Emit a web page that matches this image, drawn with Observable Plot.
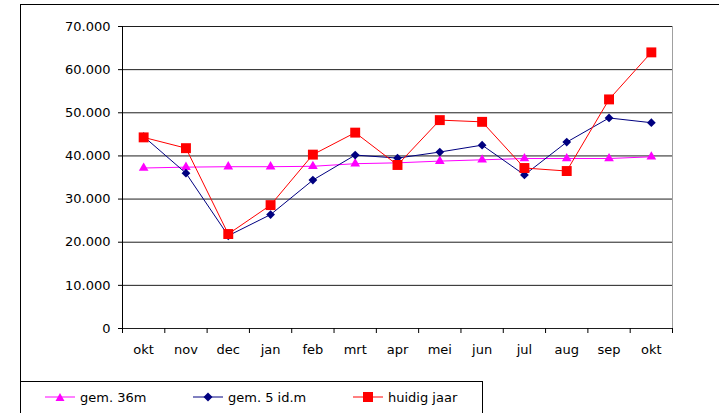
<!DOCTYPE html>
<html>
<head>
<meta charset="utf-8">
<script src="https://cdn.jsdelivr.net/npm/d3@7"></script>
<script src="https://cdn.jsdelivr.net/npm/@observablehq/plot@0.6"></script>
<style>
  html, body { margin: 0; padding: 0; background: #fff; }
  #wrap { position: relative; width: 719px; height: 413px; overflow: hidden; font-family: "DejaVu Sans", sans-serif; font-size: 13px; color: #000; }
  #frame { position: absolute; left: 20px; top: 4px; width: 720px; height: 420px; border-left: 1px solid #000; border-top: 1px solid #000; box-sizing: border-box; }
  #chart { position: absolute; left: 0; top: 0; }
  #legend { position: absolute; left: 20px; top: 381px; width: 463px; height: 40px; border: 1px solid #000; box-sizing: border-box; }
  .item { position: absolute; top: 6px; height: 18px; display: flex; align-items: center; white-space: nowrap; }
  .item svg { margin-right: 5px; }
</style>
</head>
<body>
<div id="wrap">
  <div id="frame"></div>
  <div id="chart"></div>
  <div id="legend"></div>
</div>
<script>
const months = ["okt","nov","dec","jan","feb","mrt","apr","mei","jun","jul","aug","sep","okt"];
const gem36 = [37200, 37400, 37500, 37500, 37600, 38200, 38400, 38800, 39100, 39400, 39400, 39400, 39800];
const gem5 = [44500, 36000, 21500, 26400, 34400, 40200, 39500, 40900, 42500, 35600, 43200, 48800, 47700];
const huidig = [44300, 41800, 21900, 28600, 40300, 45400, 37900, 48300, 47900, 37200, 36500, 53100, 64000];
const yTicks = [0, 10000, 20000, 30000, 40000, 50000, 60000, 70000];
const seriesNames = ["gem. 36m", "gem. 5 id.m", "huidig jaar"];
const seriesColors = ["#ff00ff", "#000080", "#ff0000"];

const idx = months.map((m, i) => i);
const xDomain = [-0.5, months.length - 0.5];
const bounds = idx.map(i => i - 0.5).concat([months.length - 0.5]);
const rows = (vals) => vals.map((v, i) => ({i, v}));

const nl = d3.formatLocale({decimal: ",", thousands: ".", grouping: [3], currency: ["", ""]});
const fmt = nl.format(",");

const chart = Plot.plot({
  width: 719,
  height: 365,
  marginLeft: 122,
  marginRight: 47,
  marginTop: 26,
  marginBottom: 37,
  x: {type: "linear", domain: xDomain},
  y: {domain: [0, 70000]},
  style: {fontFamily: "DejaVu Sans, sans-serif", fontSize: "13px", color: "#000", background: "transparent", overflow: "visible"},
  marks: [
    Plot.ruleY(yTicks, {stroke: "#1e1e1e"}),
    Plot.ruleX([xDomain[1]], {stroke: "#a0a0a0"}),
    Plot.ruleX([xDomain[0]], {stroke: "#000"}),
    Plot.axisY(yTicks, {tickSize: 4, tickPadding: 8, tickFormat: fmt, label: null}),
    Plot.axisX(bounds, {tickSize: 5, tickFormat: () => "", label: null}),
    Plot.axisX(idx, {tickSize: 0, tickPadding: 16, tickFormat: i => months[i], label: null}),
    Plot.line(rows(gem36), {x: "i", y: "v", stroke: seriesColors[0], strokeWidth: 1}),
    Plot.dot(rows(gem36), {x: "i", y: "v", symbol: "triangle", r: 3.6, fill: seriesColors[0], stroke: "none"}),
    Plot.line(rows(gem5), {x: "i", y: "v", stroke: seriesColors[1], strokeWidth: 1}),
    Plot.dot(rows(gem5), {x: "i", y: "v", symbol: "square", r: 3.5, rotate: 45, fill: seriesColors[1], stroke: "none"}),
    Plot.line(rows(huidig), {x: "i", y: "v", stroke: seriesColors[2], strokeWidth: 1}),
    Plot.dot(rows(huidig), {x: "i", y: "v", symbol: "square", r: 5.6, fill: seriesColors[2], stroke: "none"})
  ]
});
document.getElementById("chart").appendChild(chart);

// legend
const legend = document.getElementById("legend");
const lefts = [24, 172, 332];
const markers = [
  c => `<polygon points="15,1 19.5,9 10.5,9" fill="${c}"/>`,
  c => `<polygon points="15,0.5 19.5,5 15,9.5 10.5,5" fill="${c}"/>`,
  c => `<rect x="10" y="0" width="10" height="10" fill="${c}"/>`
];
seriesNames.forEach((name, k) => {
  const it = document.createElement("div");
  it.className = "item";
  it.style.left = lefts[k] + "px";
  it.innerHTML = `<svg width="30" height="10" viewBox="0 0 30 10"><line x1="0" x2="30" y1="5" y2="5" stroke="${seriesColors[k]}" stroke-width="1"/>${markers[k](seriesColors[k])}</svg><span>${name}</span>`;
  legend.appendChild(it);
});
</script>
</body>
</html>
